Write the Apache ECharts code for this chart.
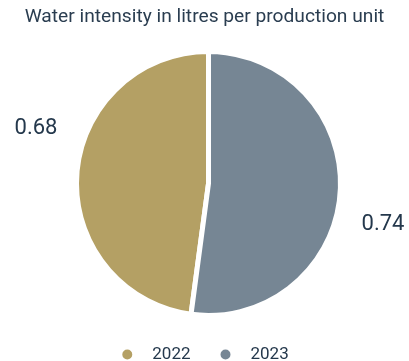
<!DOCTYPE html>
<html>
<head>
<meta charset="utf-8">
<script src="https://cdn.jsdelivr.net/npm/echarts@6/dist/echarts.min.js"></script>
<style>
  html, body { margin: 0; padding: 0; background: #ffffff; }
  #chart { width: 409px; height: 361px; }
</style>
</head>
<body>
<div id="chart"></div>
<script>
// Water intensity (litres per production unit) by year
const years = ['2022', '2023'];
const intensity = [0.68, 0.74];
const sliceColors = ['#b4a064', '#768694'];
const titleText = 'Water intensity in litres per production unit';

const textColor = '#24384c';
const font = 'Roboto, "Noto Sans", sans-serif';

// Where each value label sits (left of the first slice, right of the second)
const labelSpots = [
  { x: 36, y: 128 },
  { x: 383, y: 224 }
];

const chart = echarts.init(document.getElementById('chart'), null, { renderer: 'canvas' });

chart.setOption({
  animation: false,
  title: {
    text: titleText,
    left: 'center',
    top: 3,
    padding: [5, 0, 5, 24],
    textStyle: { fontFamily: font, fontWeight: 'normal', fontSize: 19.2, color: '#2a3d50' }
  },
  legend: {
    data: years,
    top: 341,
    left: 'center',
    icon: 'circle',
    itemWidth: 12,
    itemHeight: 12,
    itemGap: 28,
    textStyle: { fontFamily: font, fontSize: 17, color: textColor, padding: [0, 0, 0, 14] }
  },
  series: [{
    type: 'pie',
    center: [208.5, 183.5],
    radius: 132,
    startAngle: 90,
    clockwise: false,
    itemStyle: { borderColor: '#ffffff', borderWidth: 5 },
    label: {
      show: true,
      position: 'outside',
      overflow: 'none',
      formatter: p => p.value.toFixed(2),
      fontFamily: font,
      fontSize: 22,
      color: textColor
    },
    labelLine: { show: false },
    labelLayout: p => ({
      x: labelSpots[p.dataIndex].x,
      y: labelSpots[p.dataIndex].y,
      align: 'center',
      verticalAlign: 'middle',
      hideOverlap: false
    }),
    emphasis: { disabled: true },
    data: years.map((y, i) => ({
      name: y,
      value: intensity[i],
      itemStyle: { color: sliceColors[i] }
    }))
  }]
});
</script>
</body>
</html>
